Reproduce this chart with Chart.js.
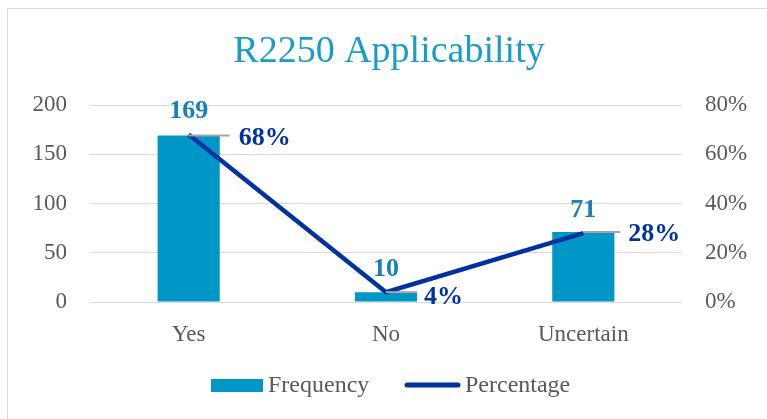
<!DOCTYPE html>
<html>
<head>
<meta charset="utf-8">
<script src="https://cdn.jsdelivr.net/npm/chart.js@4/dist/chart.umd.min.js"></script>
<style>
  html, body { margin:0; padding:0; background:#fff; }
  #wrap { position:absolute; left:7px; top:8px; width:770px; height:420px; border:1px solid #d9d9d9; box-sizing:border-box; }
  #c { position:absolute; left:0; top:0; }
</style>
</head>
<body>
<div id="wrap"></div>
<canvas id="c" width="767" height="419"></canvas>
<script>
// chart data
const CATEGORIES = ["Yes", "No", "Uncertain"];
const FREQUENCY = [169, 10, 71];
const PERCENTAGE = [68, 4, 28];
const LEFT_TICKS = [0, 50, 100, 150, 200];
const RIGHT_TICKS = [0, 20, 40, 60, 80];

const BAR_COLOR = "#0097c7";
const LINE_COLOR = "#0033a0";
const FONT = "'Liberation Serif', 'DejaVu Serif', serif";

// leader line length / label gap per point, like the excel layout
const LEADER = [{ len: 41, gap: 50, dy: 3 }, { len: 31, gap: 38, dy: 5 }, { len: 37, gap: 45, dy: 2 }];

// draws the title, value labels with leader lines and the legend
const decorations = {
  id: 'decorations',
  afterDatasetsDraw(chart) {
    const ctx = chart.ctx;
    ctx.save();
    // title
    ctx.fillStyle = "#1a9bcb";
    ctx.font = "38px " + FONT;
    ctx.textAlign = "center";
    ctx.textBaseline = "middle";
    ctx.fillText("R2250 Applicability", 389, 52);

    // bar labels
    const barMeta = chart.getDatasetMeta(0);
    ctx.font = "bold 26px " + FONT;
    ctx.fillStyle = "#1a7fb8";
    barMeta.data.forEach((bar, i) => {
      ctx.fillText(String(FREQUENCY[i]), bar.x, bar.y - 23);
    });

    // line labels with leader lines
    const lineMeta = chart.getDatasetMeta(1);
    lineMeta.data.forEach((pt, i) => {
      const l = LEADER[i];
      ctx.strokeStyle = "#a6a6a6";
      ctx.lineWidth = 2;
      ctx.beginPath();
      ctx.moveTo(pt.x, pt.y);
      ctx.lineTo(pt.x + l.len, pt.y);
      ctx.stroke();
      ctx.fillStyle = LINE_COLOR;
      ctx.textAlign = "left";
      ctx.font = "bold 26px " + FONT;
      ctx.fillText(PERCENTAGE[i] + "%", pt.x + l.gap, pt.y + l.dy);
    });

    // legend
    ctx.fillStyle = BAR_COLOR;
    ctx.fillRect(211, 379, 52, 13);
    ctx.fillStyle = "#595959";
    ctx.font = "24px " + FONT;
    ctx.textAlign = "left";
    ctx.fillText("Frequency", 268, 386);
    ctx.strokeStyle = LINE_COLOR;
    ctx.lineWidth = 5;
    ctx.lineCap = "round";
    ctx.beginPath();
    ctx.moveTo(407, 385);
    ctx.lineTo(458, 385);
    ctx.stroke();
    ctx.fillText("Percentage", 465, 386);
    ctx.restore();
  }
};

new Chart(document.getElementById('c'), {
  data: {
    labels: CATEGORIES,
    datasets: [
      {
        type: 'line',
        label: 'Percentage',
        data: PERCENTAGE,
        yAxisID: 'y1',
        borderColor: LINE_COLOR,
        borderWidth: 4.5,
        pointRadius: 0,
        tension: 0,
        order: 0
      },
      {
        type: 'bar',
        label: 'Frequency',
        data: FREQUENCY,
        yAxisID: 'y',
        backgroundColor: BAR_COLOR,
        barPercentage: 0.315,
        categoryPercentage: 1,
        order: 1
      }
    ]
  },
  plugins: [decorations],
  options: {
    responsive: false,
    animation: false,
    layout: { padding: { top: 105, bottom: 0, left: 0, right: 0 } },
    plugins: {
      legend: { display: false },
      title: { display: false },
      tooltip: { enabled: false }
    },
    scales: {
      x: {
        afterFit: s => { s.height = 117; },
        grid: { display: false, drawTicks: false },
        border: { display: false },
        ticks: { color: "#595959", font: { family: FONT, size: 23 }, padding: 19 }
      },
      y: {
        position: 'left',
        min: 0, max: 200,
        afterBuildTicks: s => { s.ticks = LEFT_TICKS.map(v => ({ value: v })); },
        afterFit: s => { s.width = 90; },
        grid: { color: "#d9d9d9", drawTicks: false },
        border: { display: false },
        ticks: { color: "#595959", font: { family: FONT, size: 23 }, padding: 23 }
      },
      y1: {
        position: 'right',
        min: 0, max: 80,
        afterBuildTicks: s => { s.ticks = RIGHT_TICKS.map(v => ({ value: v })); },
        afterFit: s => { s.width = 85; },
        grid: { display: false, drawTicks: false },
        border: { display: false },
        ticks: { color: "#595959", font: { family: FONT, size: 23 }, padding: 23, callback: v => v + "%" }
      }
    }
  }
});
</script>
</body>
</html>
